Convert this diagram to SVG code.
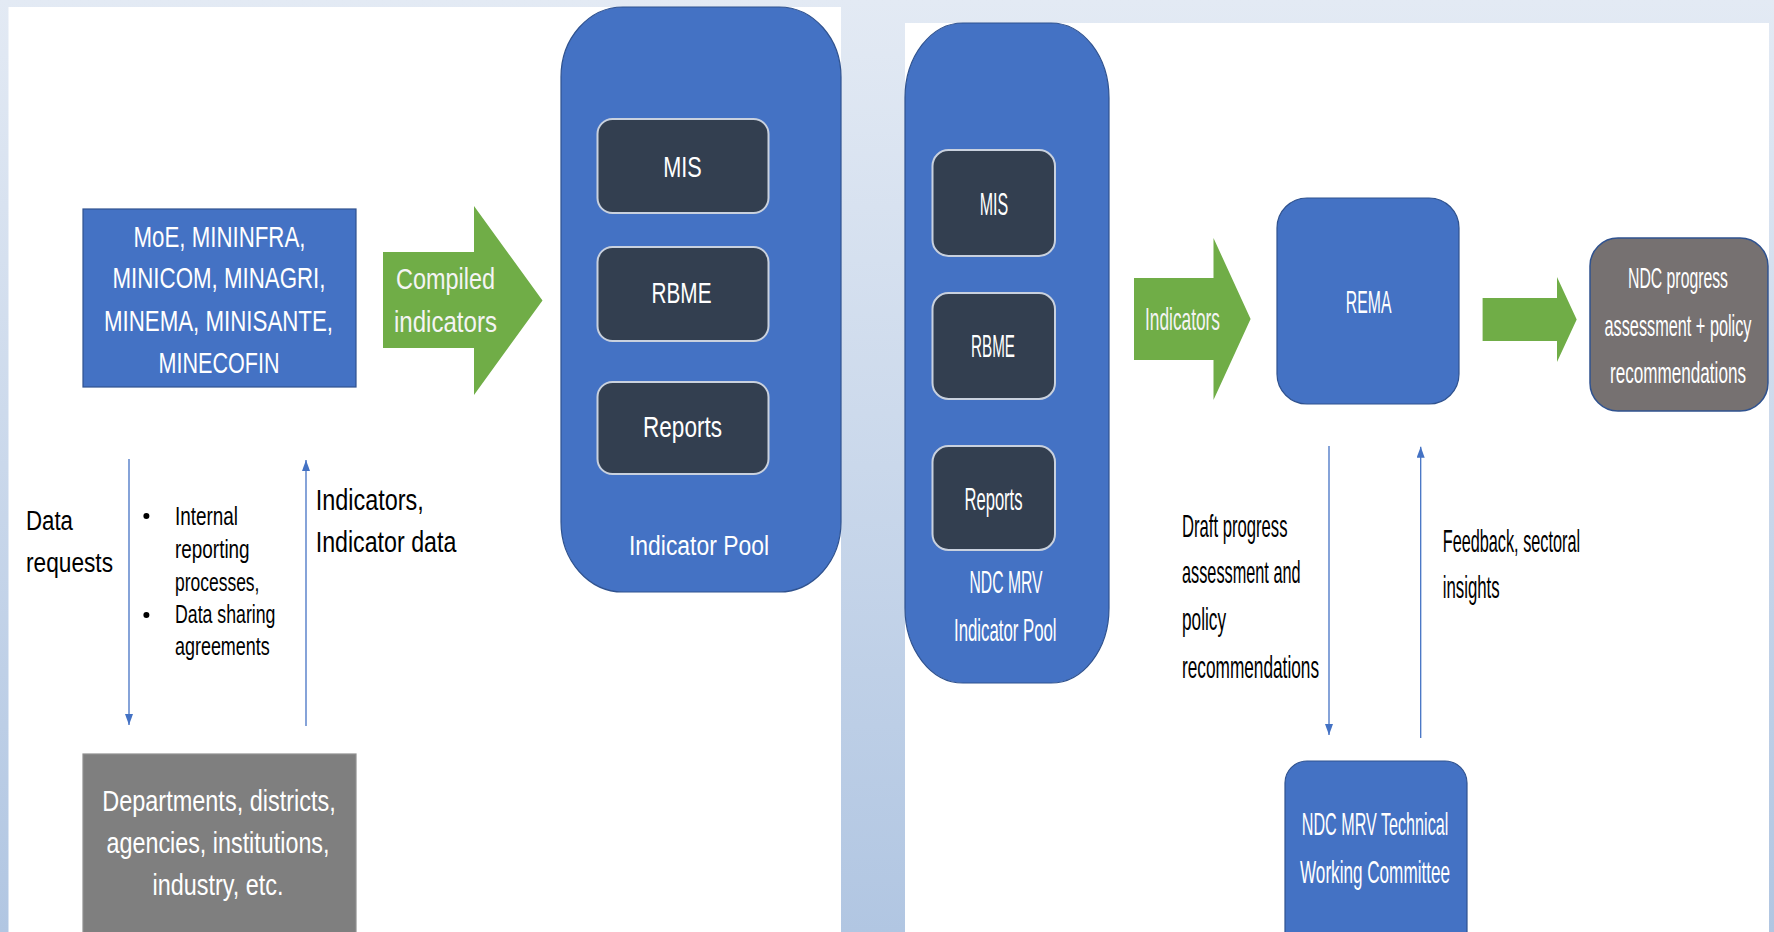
<svg xmlns="http://www.w3.org/2000/svg" width="1774" height="932" viewBox="0 0 1774 932">
<style>
  .t{font-family:"Liberation Sans",Arial,sans-serif;}
  .w{fill:#ffffff;}
  .k{fill:#000000;}
  .g{fill:#f4f4f4;}
  .m{text-anchor:middle;}
  .blue{fill:#4472c4;stroke:#2f528f;stroke-width:1.2;}
  .dark{fill:#333f50;stroke:#c9d1de;stroke-width:2;}
  .grn{fill:#70ad47;}
  .ln{stroke:#4472c4;stroke-width:1.3;fill:none;marker-end:url(#ah);}
</style>
<defs>
  <linearGradient id="bg" x1="0" y1="0" x2="0" y2="1">
    <stop offset="0" stop-color="#e3eaf4"/>
    <stop offset="1" stop-color="#b1c6e2"/>
  </linearGradient>
  <marker id="ah" markerUnits="userSpaceOnUse" markerWidth="11" markerHeight="8" refX="11" refY="4" orient="auto">
    <path d="M0,0 L11,4 L0,8 z" fill="#4472c4"/>
  </marker>
</defs>

<rect x="0" y="0" width="1774" height="932" fill="url(#bg)"/>
<rect x="8.5" y="7" width="832.5" height="925" fill="#ffffff"/>
<rect x="905" y="23" width="864" height="909" fill="#ffffff"/>

<g id="moe">
  <rect class="blue" x="83" y="209" width="273" height="178"/>
  <text class="t w m" font-size="30" transform="translate(219.5,246.7) scale(0.76,1)" textLength="226.3" lengthAdjust="spacingAndGlyphs">MoE, MININFRA,</text>
  <text class="t w m" font-size="30" transform="translate(219,288.3) scale(0.76,1)" textLength="280.3" lengthAdjust="spacingAndGlyphs">MINICOM, MINAGRI,</text>
  <text class="t w m" font-size="30" transform="translate(218.5,330.7) scale(0.76,1)" textLength="301.3" lengthAdjust="spacingAndGlyphs">MINEMA, MINISANTE,</text>
  <text class="t w m" font-size="30" transform="translate(219,372.7) scale(0.76,1)" textLength="159.2" lengthAdjust="spacingAndGlyphs">MINECOFIN</text>
</g>

<g id="arrow-compiled">
  <polygon class="grn" points="383,252 474,252 474,206 542.5,300.5 474,395 474,348 383,348"/>
  <text class="t g" font-size="30" transform="translate(396,289.3) scale(0.76,1)" textLength="130.3" lengthAdjust="spacingAndGlyphs">Compiled</text>
  <text class="t g" font-size="30" transform="translate(394,331.7) scale(0.76,1)" textLength="135.5" lengthAdjust="spacingAndGlyphs">indicators</text>
</g>

<g id="indicator-pool">
  <rect class="blue" x="561" y="7" width="280" height="585" rx="62" ry="70"/>
  <text class="t w m" font-size="28" transform="translate(699,555) scale(0.76,1)" textLength="184.2" lengthAdjust="spacingAndGlyphs">Indicator Pool</text>
</g>
<g id="mis-left">
  <rect class="dark" x="597.5" y="119" width="171" height="94" rx="15"/>
  <text class="t w m" font-size="30" transform="translate(682.5,177.3) scale(0.76,1)" textLength="50.7" lengthAdjust="spacingAndGlyphs">MIS</text>
</g>
<g id="rbme-left">
  <rect class="dark" x="597.5" y="247" width="171" height="94" rx="15"/>
  <text class="t w m" font-size="30" transform="translate(681.5,303.3) scale(0.76,1)" textLength="78.9" lengthAdjust="spacingAndGlyphs">RBME</text>
</g>
<g id="reports-left">
  <rect class="dark" x="597.5" y="382" width="171" height="92" rx="15"/>
  <text class="t w m" font-size="30" transform="translate(682.5,436.7) scale(0.76,1)" textLength="103.9" lengthAdjust="spacingAndGlyphs">Reports</text>
</g>

<g id="data-requests-label">
  <text class="t k" font-size="28" transform="translate(26,530) scale(0.76,1)" textLength="61.8" lengthAdjust="spacingAndGlyphs">Data</text>
  <text class="t k" font-size="28" transform="translate(26,571.7) scale(0.76,1)" textLength="114.5" lengthAdjust="spacingAndGlyphs">requests</text>
</g>
<g id="bullets">
  <circle cx="146.4" cy="516" r="3" fill="#000"/>
  <circle cx="146.4" cy="615" r="3" fill="#000"/>
  <text class="t k" font-size="25" transform="translate(175,525) scale(0.76,1)" textLength="82.9" lengthAdjust="spacingAndGlyphs">Internal</text>
  <text class="t k" font-size="25" transform="translate(175,558.3) scale(0.76,1)" textLength="98.2" lengthAdjust="spacingAndGlyphs">reporting</text>
  <text class="t k" font-size="25" transform="translate(175,590.7) scale(0.76,1)" textLength="111.1" lengthAdjust="spacingAndGlyphs">processes,</text>
  <text class="t k" font-size="25" transform="translate(175,623.3) scale(0.76,1)" textLength="132.2" lengthAdjust="spacingAndGlyphs">Data sharing</text>
  <text class="t k" font-size="25" transform="translate(175,655) scale(0.76,1)" textLength="124.6" lengthAdjust="spacingAndGlyphs">agreements</text>
</g>
<g id="indicators-label">
  <text class="t k" font-size="30" transform="translate(315.7,510) scale(0.76,1)" textLength="142.1" lengthAdjust="spacingAndGlyphs">Indicators,</text>
  <text class="t k" font-size="30" transform="translate(315.7,551.7) scale(0.76,1)" textLength="185" lengthAdjust="spacingAndGlyphs">Indicator data</text>
</g>

<g id="departments">
  <rect x="83" y="754" width="273" height="200" fill="#7f7f7f" stroke="#8f8f8f" stroke-width="1.2"/>
  <text class="t w m" font-size="29" transform="translate(219,810.7) scale(0.76,1)" textLength="307.4" lengthAdjust="spacingAndGlyphs">Departments, districts,</text>
  <text class="t w m" font-size="29" transform="translate(218,853.3) scale(0.76,1)" textLength="293.4" lengthAdjust="spacingAndGlyphs">agencies, institutions,</text>
  <text class="t w m" font-size="29" transform="translate(218,895) scale(0.76,1)" textLength="172.4" lengthAdjust="spacingAndGlyphs">industry, etc.</text>
</g>

<g id="ndc-mrv-pool">
  <rect class="blue" x="905" y="23" width="204" height="660" rx="58" ry="75"/>
  <text class="t w m" font-size="31" transform="translate(1006,593.3) scale(0.55,1)" textLength="132.7" lengthAdjust="spacingAndGlyphs">NDC MRV</text>
  <text class="t w m" font-size="31" transform="translate(1005.3,640.7) scale(0.55,1)" textLength="186.5" lengthAdjust="spacingAndGlyphs">Indicator Pool</text>
</g>
<g id="mis-right">
  <rect class="dark" x="932.5" y="150" width="122.5" height="106" rx="16"/>
  <text class="t w m" font-size="31" transform="translate(994,215) scale(0.55,1)" textLength="51.8" lengthAdjust="spacingAndGlyphs">MIS</text>
</g>
<g id="rbme-right">
  <rect class="dark" x="932.5" y="293" width="122.5" height="106" rx="16"/>
  <text class="t w m" font-size="31" transform="translate(993,356.7) scale(0.55,1)" textLength="80" lengthAdjust="spacingAndGlyphs">RBME</text>
</g>
<g id="reports-right">
  <rect class="dark" x="932.5" y="446" width="122.5" height="104" rx="16"/>
  <text class="t w m" font-size="31" transform="translate(993.5,510) scale(0.55,1)" textLength="105.5" lengthAdjust="spacingAndGlyphs">Reports</text>
</g>

<g id="arrow-indicators">
  <polygon class="grn" points="1134,278 1213.5,278 1213.5,238 1250.6,319 1213.5,400 1213.5,360 1134,360"/>
  <text class="t g" font-size="31" transform="translate(1145,330) scale(0.55,1)" textLength="136.4" lengthAdjust="spacingAndGlyphs">Indicators</text>
</g>

<g id="rema">
  <rect class="blue" x="1277" y="198" width="182" height="206" rx="30"/>
  <text class="t w m" font-size="31" transform="translate(1368.6,313.3) scale(0.55,1)" textLength="82.9" lengthAdjust="spacingAndGlyphs">REMA</text>
</g>

<g id="arrow-output">
  <polygon class="grn" points="1482.6,298 1557,298 1557,277 1576.7,319.5 1557,362 1557,341 1482.6,341"/>
</g>

<g id="ndc-progress">
  <rect x="1590" y="238" width="178" height="173" rx="28" fill="#767171" stroke="#2f528f" stroke-width="1.5"/>
  <text class="t w m" font-size="30" transform="translate(1678,288) scale(0.55,1)" textLength="181.8" lengthAdjust="spacingAndGlyphs">NDC progress</text>
  <text class="t w m" font-size="30" transform="translate(1678,336) scale(0.55,1)" textLength="267.3" lengthAdjust="spacingAndGlyphs">assessment + policy</text>
  <text class="t w m" font-size="30" transform="translate(1678,383) scale(0.55,1)" textLength="247.3" lengthAdjust="spacingAndGlyphs">recommendations</text>
</g>

<g id="draft-label">
  <text class="t k" font-size="31" transform="translate(1182,536.7) scale(0.55,1)" textLength="191.8" lengthAdjust="spacingAndGlyphs">Draft progress</text>
  <text class="t k" font-size="31" transform="translate(1182,583.3) scale(0.55,1)" textLength="215.6" lengthAdjust="spacingAndGlyphs">assessment and</text>
  <text class="t k" font-size="31" transform="translate(1182,630) scale(0.55,1)" textLength="80" lengthAdjust="spacingAndGlyphs">policy</text>
  <text class="t k" font-size="31" transform="translate(1182,678.3) scale(0.55,1)" textLength="249.1" lengthAdjust="spacingAndGlyphs">recommendations</text>
</g>
<g id="feedback-label">
  <text class="t k" font-size="31" transform="translate(1442.7,551.7) scale(0.55,1)" textLength="249.8" lengthAdjust="spacingAndGlyphs">Feedback, sectoral</text>
  <text class="t k" font-size="31" transform="translate(1442.7,598.3) scale(0.55,1)" textLength="103.6" lengthAdjust="spacingAndGlyphs">insights</text>
</g>

<g id="technical-wc">
  <rect class="blue" x="1285" y="761" width="182" height="200" rx="22"/>
  <text class="t w m" font-size="31" transform="translate(1375,835) scale(0.55,1)" textLength="266.4" lengthAdjust="spacingAndGlyphs">NDC MRV Technical</text>
  <text class="t w m" font-size="31" transform="translate(1375,883.3) scale(0.55,1)" textLength="272.7" lengthAdjust="spacingAndGlyphs">Working Committee</text>
</g>

<g id="connectors">
  <line class="ln" x1="129" y1="459" x2="129" y2="725"/>
  <line class="ln" x1="306" y1="726" x2="306" y2="460"/>
  <line class="ln" x1="1329" y1="446" x2="1329" y2="735"/>
  <line class="ln" x1="1420.7" y1="738" x2="1420.7" y2="446.7"/>
</g>
</svg>
